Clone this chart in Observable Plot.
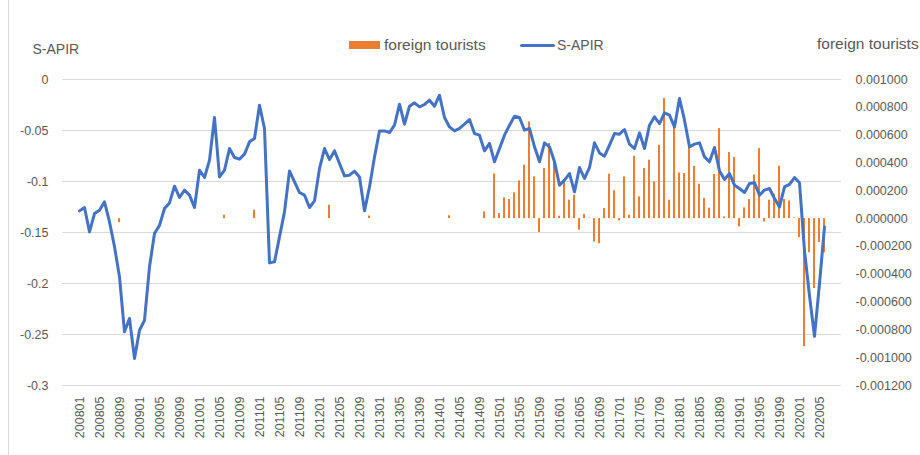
<!DOCTYPE html>
<html><head><meta charset="utf-8">
<script src="https://cdn.jsdelivr.net/npm/d3@7"></script>
<script src="https://cdn.jsdelivr.net/npm/@observablehq/plot@0.6"></script>
<style>
body{margin:0;background:#fff;}
#chart{position:relative;width:920px;height:455px;overflow:hidden;font-family:"Liberation Sans",Arial,sans-serif;color:#595959;background:#fff;}
#chart svg{position:absolute;left:0;top:0;}
.t{position:absolute;white-space:nowrap;line-height:1;color:#595959;}
</style></head><body>
<div id="chart"></div>
<script>
// ---- data ----
const years = ["2008","2009","2010","2011","2012","2013","2014","2015","2016","2017","2018","2019","2020"];
const monthNums = ["01","02","03","04","05","06","07","08","09","10","11","12"];
const months = years.flatMap(y => monthNums.map(m => y + m)).slice(0, 150); // 200801 .. 202006

const sapir = [
 -0.1288,-0.1255,-0.1494,-0.1314,-0.1281,-0.1200,-0.1396,-0.1640,-0.1935,-0.2474,-0.2343,-0.2735,
 -0.2458,-0.2360,-0.1837,-0.1510,-0.1430,-0.1265,-0.1210,-0.1046,-0.1157,-0.1085,-0.1134,-0.1255,
 -0.0889,-0.0961,-0.0791,-0.0373,-0.0955,-0.0889,-0.0677,-0.0765,-0.0781,-0.0732,-0.0611,-0.0579,
 -0.0252,-0.0480,-0.1798,-0.1788,-0.1543,-0.1298,-0.0896,-0.1003,-0.1108,-0.1134,-0.1255,-0.1190,
 -0.0873,-0.0677,-0.0785,-0.0700,-0.0824,-0.0945,-0.0938,-0.0899,-0.0955,-0.1288,-0.1053,-0.0759,
 -0.0504,-0.0504,-0.0520,-0.0448,-0.0242,-0.0438,-0.0262,-0.0229,-0.0268,-0.0245,-0.0203,-0.0262,
 -0.0154,-0.0373,-0.0465,-0.0504,-0.0480,-0.0438,-0.0392,-0.0530,-0.0546,-0.0700,-0.0627,-0.0807,
 -0.0677,-0.0546,-0.0448,-0.0360,-0.0373,-0.0497,-0.0480,-0.0660,-0.0807,-0.0621,-0.0660,-0.0807,
 -0.1036,-0.0987,-0.0922,-0.1102,-0.0863,-0.0970,-0.0863,-0.0621,-0.0720,-0.0752,-0.0644,-0.0530,
 -0.0536,-0.0490,-0.0634,-0.0677,-0.0523,-0.0677,-0.0448,-0.0366,-0.0432,-0.0327,-0.0350,-0.0465,
 -0.0186,-0.0399,-0.0660,-0.0634,-0.0621,-0.0759,-0.0807,-0.0667,-0.0896,-0.0980,-0.0922,-0.1036,
 -0.1069,-0.1108,-0.1020,-0.1013,-0.1134,-0.1085,-0.1069,-0.1167,-0.1249,-0.1053,-0.1029,-0.0961,
 -0.1013,-0.1680,-0.2120,-0.2517,-0.2000,-0.1445
];

const tourists = [
 0,0,0,0,0,0,0,0,-0.000030,0,0,0,
 0,0,0,0,0,0,0,0,0,0,0,0,
 0,0,0,0,0,0.000024,0,0,0,0,0,0.000060,
 0,0,0,0,0,0,0,0,0,0,0,0,
 0,0,0.000096,0,0,0,0,0,0,0,0.000018,0,
 0,0,0,0,0,0,0,0,0,0,0,0,
 0,0,0.000020,0,0,0,0,0,0,0.000048,0,0.000320,
 0.000036,0.000149,0.000137,0.000185,0.000271,0.000384,0.000695,0.000300,-0.000100,0.000360,0.000540,0.000430,
 0.000017,0.000276,0.000132,0.000168,-0.000084,0.000029,0.000003,-0.000168,-0.000180,0.000072,0.000319,0.000200,
 -0.000017,0.000300,0.000024,0.000448,0.000156,0.000360,0.000420,0.000264,0.000527,0.000863,0.000132,0.000660,
 0.000328,0.000324,0.000522,0.000376,0.000247,0.000144,0.000075,0.000317,0.000647,0.000012,0.000475,0.000439,
 -0.000060,0.000077,0.000137,0.000312,0.000503,-0.000024,0.000132,0.000175,0.000376,0.000137,0.000127,0.000005,
 -0.000137,-0.000920,-0.000246,-0.000503,-0.000172,-0.000246
];

const leftTicks = [0, -0.05, -0.1, -0.15, -0.2, -0.25, -0.3];
const rightTicks = [0.001, 0.0008, 0.0006, 0.0004, 0.0002, 0, -0.0002, -0.0004, -0.0006, -0.0008, -0.001, -0.0012];
const xTicks = months.filter((d, i) => i % 4 === 0);

const seriesNames = ["foreign tourists", "S-APIR"];
const colors = ["#ED7D31", "#4472C4"];

// ---- chart ----
const rows = months.map((m, i) => ({month: m, sapir: sapir[i], tourists: tourists[i]}));
const W = 920, H = 455;
const M = {marginLeft: 62, marginRight: 79, marginTop: 79, marginBottom: 70};
const style = {fontFamily: '"Liberation Sans", Arial, sans-serif', fontSize: "12.5px", color: "#595959", background: "transparent", overflow: "visible"};
const fmtL = d => d === 0 ? "0" : String(+d.toFixed(2));
const fmtR = d => (d < -1e-12 ? "-" : "") + Math.abs(d).toFixed(6);

const base = Plot.plot({
  width: W, height: H, ...M, style,
  x: {type: "point", domain: months, padding: 0.5, axis: null},
  y: {domain: [-0.3, 0], axis: null},
  marks: [
    Plot.gridY(leftTicks, {stroke: "#d9d9d9", strokeOpacity: 1, strokeWidth: 1}),
    Plot.axisY(leftTicks, {anchor: "left", tickSize: 0, tickPadding: 14, tickFormat: fmtL, label: null}),
    Plot.axisX(xTicks, {anchor: "bottom", tickSize: 0, tickPadding: 11, tickRotate: -90, label: null})
  ]
});

const bars = Plot.plot({
  width: W, height: H, ...M, style,
  x: {type: "band", domain: months, paddingInner: 0.56, paddingOuter: 0.28, axis: null},
  y: {domain: [-0.0012, 0.001], axis: null},
  marks: [
    Plot.barY(rows, {x: "month", y: "tourists", fill: colors[0]}),
    Plot.axisY(rightTicks, {anchor: "right", tickSize: 0, tickPadding: 14, tickFormat: fmtR, label: null})
  ]
});

const line = Plot.plot({
  width: W, height: H, ...M, style,
  x: {type: "point", domain: months, padding: 0.5, axis: null},
  y: {domain: [-0.3, 0], axis: null},
  marks: [
    Plot.line(rows, {x: "month", y: "sapir", stroke: colors[1], strokeWidth: 3, strokeLinejoin: "round", strokeLinecap: "round"})
  ]
});

const chart = document.getElementById("chart");
chart.append(base, bars, line);

function addText(txt, left, top, size) {
  const d = document.createElement("div");
  d.className = "t"; d.textContent = txt;
  d.style.left = left + "px"; d.style.top = top + "px"; d.style.fontSize = size + "px";
  chart.append(d);
}
addText("S-APIR", 32.5, 42.4, 14);
addText("foreign tourists", 817, 35.7, 15.5);
// legend
const sw = document.createElement("div");
Object.assign(sw.style, {position: "absolute", left: "349px", top: "40.7px", width: "31px", height: "8.6px", background: colors[0]});
chart.append(sw);
addText(seriesNames[0], 384, 37.2, 15.5);
const ln = document.createElement("div");
Object.assign(ln.style, {position: "absolute", left: "520px", top: "43.5px", width: "35px", height: "3px", background: colors[1], borderRadius: "1.5px"});
chart.append(ln);
addText(seriesNames[1], 557, 38.4, 14);
// chart-area left border
const bd = document.createElement("div");
Object.assign(bd.style, {position: "absolute", left: "8px", top: "0px", width: "1px", height: "455px", background: "#d9d9d9"});
chart.append(bd);
</script>
</body></html>
